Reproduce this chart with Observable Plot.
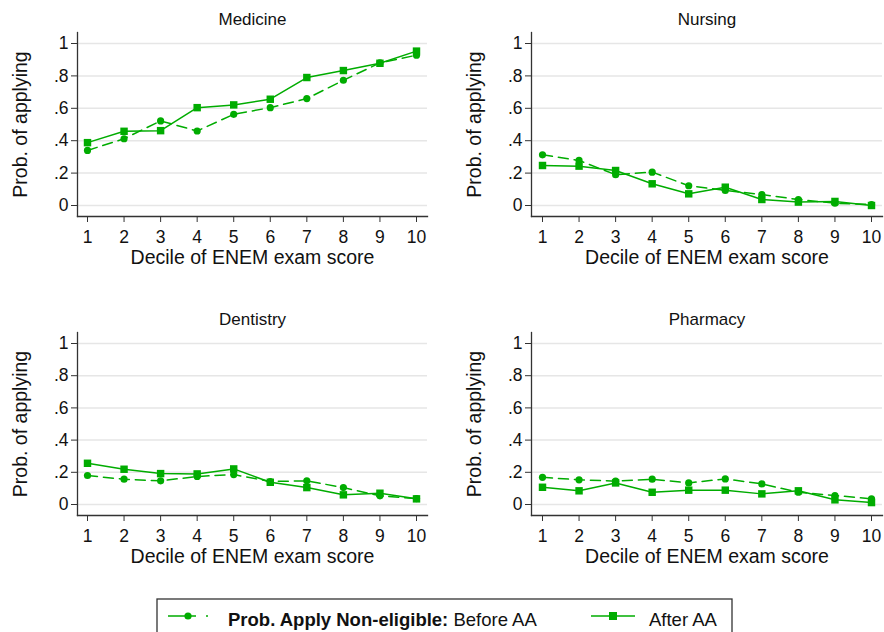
<!DOCTYPE html>
<html><head><meta charset="utf-8">
<script src="https://cdn.jsdelivr.net/npm/d3@7"></script>
<script src="https://cdn.jsdelivr.net/npm/@observablehq/plot@0.6"></script>
<style>
body{margin:0;background:#fff;}
#root{position:relative;width:884px;height:632px;overflow:hidden;font-family:"Liberation Sans",Arial,sans-serif;background:#fff;}
.panel{position:absolute;}
</style></head><body><div id="root"></div>
<script>
const deciles = [1,2,3,4,5,6,7,8,9,10];
const yTicks = [0,0.2,0.4,0.6,0.8,1];
const yTickLabels = ["0",".2",".4",".6",".8","1"];
const panelTitles = ["Medicine","Nursing","Dentistry","Pharmacy"];
const xTitle = "Decile of ENEM exam score";
const yTitle = "Prob. of applying";
const seriesNames = ["Before AA","After AA"];

const medicineBefore = [0.340,0.412,0.522,0.460,0.563,0.604,0.660,0.773,0.880,0.928];
const medicineAfter  = [0.388,0.458,0.462,0.604,0.621,0.656,0.790,0.833,0.878,0.953];
const nursingBefore  = [0.313,0.278,0.190,0.206,0.122,0.093,0.068,0.037,0.014,0.006];
const nursingAfter   = [0.247,0.243,0.216,0.134,0.072,0.113,0.037,0.021,0.025,0.000];
const dentistryBefore= [0.180,0.157,0.147,0.174,0.186,0.143,0.147,0.105,0.054,0.037];
const dentistryAfter = [0.256,0.219,0.192,0.190,0.221,0.138,0.105,0.060,0.070,0.035];
const pharmacyBefore = [0.169,0.153,0.145,0.157,0.134,0.159,0.128,0.076,0.056,0.035];
const pharmacyAfter  = [0.107,0.085,0.134,0.076,0.089,0.089,0.066,0.085,0.029,0.012];

const GREEN = "#00ac00";
const AXIS = "#333";
const FONT = '"Liberation Sans", Arial, sans-serif';

function rows(vals){ return deciles.map((d,i)=>({x:d,y:vals[i]})); }

function panel(title, before, after, pos){
  const b = rows(before), a = rows(after);
  const chart = Plot.plot({
    width: 442, height: 290,
    marginLeft: pos.ml, marginRight: pos.mr, marginTop: pos.mt, marginBottom: 74,
    insetLeft: pos.il, insetRight: 11, insetTop: 11, insetBottom: 11,
    style: {fontFamily: FONT, fontSize: "17.5px", color: "#111", background: "#fff", overflow: "visible"},
    x: {domain: [1,10]},
    y: {domain: [0,1]},
    marks: [
      Plot.gridY(yTicks, {stroke: "#e6e6e6", strokeOpacity: 1, strokeWidth: 1.5}),
      Plot.frame({anchor: "left", stroke: AXIS, strokeWidth: 1.3}),
      Plot.frame({anchor: "bottom", stroke: AXIS, strokeWidth: 1.3}),
      Plot.axisY(yTicks, {tickSize: 6, tickPadding: 3, fontSize: 17.5, tickFormat: d => yTickLabels[yTicks.indexOf(d)], label: null, stroke: AXIS, fill: "#111"}),
      Plot.axisX(deciles, {tickSize: 6, tickPadding: 8, fontSize: 17.5, tickFormat: d => String(d), label: null, stroke: AXIS, fill: "#111"}),
      Plot.text([title], {frameAnchor: "top", dy: -13, lineAnchor: "middle", textAnchor: "middle", fontSize: 17, fill: "#111"}),
      Plot.text([xTitle], {frameAnchor: "bottom", dy: 41, lineAnchor: "middle", textAnchor: "middle", fontSize: 19.5, fill: "#111"}),
      Plot.text([yTitle], {frameAnchor: "left", dx: -57, rotate: -90, lineAnchor: "middle", textAnchor: "middle", fontSize: 19.5, fill: "#111"}),
      Plot.line(b, {x: "x", y: "y", stroke: GREEN, strokeWidth: 1.5, strokeDasharray: "10,6"}),
      Plot.line(a, {x: "x", y: "y", stroke: GREEN, strokeWidth: 1.5}),
      Plot.dot(b, {x: "x", y: "y", r: 3.6, fill: GREEN, symbol: "circle"}),
      Plot.dot(a, {x: "x", y: "y", r: 4.2, fill: GREEN, symbol: "square"})
    ]
  });
  // make sure axis tick labels use the intended size
  chart.querySelectorAll('g[aria-label$="tick label"]').forEach(g => {
    g.style.fontSize = "17.5px";
    g.querySelectorAll("text").forEach(t => t.style.fontSize = "17.5px");
  });
  const div = document.createElement("div");
  div.className = "panel";
  div.style.left = pos.left + "px";
  div.style.top = pos.top + "px";
  div.appendChild(chart);
  document.getElementById("root").appendChild(div);
}

panel(panelTitles[0], medicineBefore, medicineAfter, {left:0, top:0, ml:77, mr:15, mt:32, il:10});
panel(panelTitles[1], nursingBefore, nursingAfter, {left:442, top:0, ml:89, mr:2, mt:32, il:11});
panel(panelTitles[2], dentistryBefore, dentistryAfter, {left:0, top:299, ml:77, mr:15, mt:33, il:10});
panel(panelTitles[3], pharmacyBefore, pharmacyAfter, {left:442, top:299, ml:89, mr:2, mt:33, il:11});

// legend
const ns = "http://www.w3.org/2000/svg";
const lg = document.createElementNS(ns, "svg");
lg.setAttribute("width", 884); lg.setAttribute("height", 632);
lg.style.position = "absolute"; lg.style.left = "0px"; lg.style.top = "0px";
lg.innerHTML = `
<rect x="157" y="599" width="575" height="60" fill="#fff" stroke="${AXIS}" stroke-width="1.3"/>
<line x1="168" x2="210" y1="616" y2="616" stroke="${GREEN}" stroke-width="1.5" stroke-dasharray="28,10,2,40"/>
<circle cx="188" cy="616" r="3.6" fill="${GREEN}"/>
<text x="228" y="626" font-size="18.5" fill="#111" font-family='${FONT}'><tspan font-weight="bold">Prob. Apply Non-eligible:</tspan> ${seriesNames[0]}</text>
<line x1="591" x2="635" y1="616" y2="616" stroke="${GREEN}" stroke-width="1.5"/>
<rect x="609" y="612" width="8" height="8" fill="${GREEN}"/>
<text x="649" y="626" font-size="18.5" fill="#111" font-family='${FONT}'>${seriesNames[1]}</text>
`;
document.getElementById("root").appendChild(lg);
</script></body></html>
